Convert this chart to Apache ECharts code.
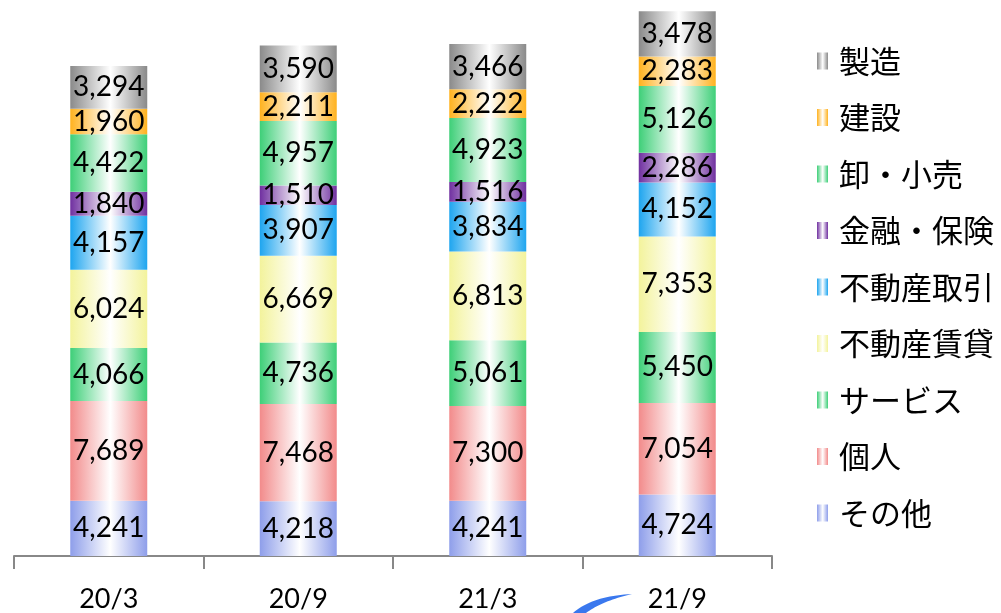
<!DOCTYPE html>
<html><head><meta charset="utf-8">
<script src="https://cdn.jsdelivr.net/npm/echarts@6/dist/echarts.min.js"></script>
<style>html,body{margin:0;padding:0;background:#fff}#c{width:1001px;height:613px}</style>
</head><body><div id="c"></div>
<script>
const categories = ['20/3', '20/9', '21/3', '21/9'];
const seriesNames = ['その他', '個人', 'サービス', '不動産賃貸', '不動産取引', '金融・保険', '卸・小売', '建設', '製造'];
const sonota = [4241, 4218, 4241, 4724];
const kojin = [7689, 7468, 7300, 7054];
const service = [4066, 4736, 5061, 5450];
const chintai = [6024, 6669, 6813, 7353];
const torihiki = [4157, 3907, 3834, 4152];
const kinyu = [1840, 1510, 1516, 2286];
const oroshi = [4422, 4957, 4923, 5126];
const kensetsu = [1960, 2211, 2222, 2283];
const seizo = [3294, 3590, 3466, 3478];
const seriesValues = [sonota, kojin, service, chintai, torihiki, kinyu, oroshi, kensetsu, seizo];
const colors = ['#8e9eea', '#f28b8b', '#3ecf78', '#f3f39c', '#1ea5ef', '#7030a0', '#3ecf78', '#ffb21f', '#8a8a8a'];

function grad(c) {
  return {type: 'linear', x: 0, y: 0, x2: 1, y2: 0, global: false, colorStops: [
    {offset: 0, color: c}, {offset: 0.52, color: '#ffffff'}, {offset: 1, color: c}
  ]};
}

function qb(p0, p1, p2, n) {
  const pts = [];
  for (let i = 0; i <= n; i++) {
    const t = i / n, u = 1 - t;
    pts.push([u*u*p0[0] + 2*u*t*p1[0] + t*t*p2[0], u*u*p0[1] + 2*u*t*p1[1] + t*t*p2[1]]);
  }
  return pts;
}
const swoosh = qb([573, 613], [592, 596], [632, 594], 20).concat(qb([632, 594], [602, 601], [586, 613], 20).slice(1));

const chart = echarts.init(document.getElementById('c'), null, {renderer: 'canvas'});
chart.setOption({
  animation: false,
  grid: {left: 14, right: 229, top: 10, bottom: 57},
  legend: {
    orient: 'vertical', left: 812, top: 38,
    data: seriesNames.slice().reverse(),
    icon: 'rect',
    itemWidth: 11, itemHeight: 17, itemGap: 20.5,
    textStyle: {fontSize: 31, lineHeight: 36, color: '#000', fontFamily: 'Noto Sans CJK JP', padding: [0,0,0,6]}
  },
  xAxis: {
    type: 'category', data: categories,
    axisLine: {lineStyle: {color: '#888', width: 2}},
    axisTick: {show: true, interval: 0, length: 13, lineStyle: {color: '#888', width: 2}},
    axisLabel: {fontSize: 27, color: '#000', margin: 30, fontFamily: 'Lato'}
  },
  yAxis: {type: 'value', min: 0, max: 42000, show: false, splitLine: {show: false}},
  graphic: [{
    type: 'polygon',
    shape: {points: swoosh},
    style: {fill: '#3a78ee'}
  }],
  series: seriesValues.map((vals, i) => ({
    name: seriesNames[i], type: 'bar', stack: 'total', barWidth: 77,
    data: vals,
    itemStyle: {color: grad(colors[i])},
    label: {
      show: true, position: 'inside', color: '#000', fontSize: 28, fontFamily: 'Lato',
      formatter: p => p.value.toLocaleString('en-US')
    }
  }))
});
</script></body></html>
